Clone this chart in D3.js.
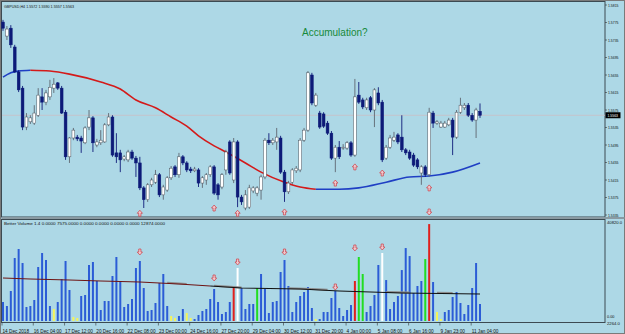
<!DOCTYPE html>
<html>
<head>
<meta charset="utf-8">
<script src="https://cdnjs.cloudflare.com/ajax/libs/d3/7.8.5/d3.min.js"></script>
<style>
body{margin:0;background:#add8e6}
svg{display:block}
text{font-family:"Liberation Sans",Arial,sans-serif}
</style>
</head>
<body>
<svg id="chart" width="625" height="334"></svg>
<script>
// GBPUSD H4 candles
const opens  = [1.5776,1.5744,1.5762,1.5719,1.5662,1.5625,1.5536,1.5548,1.5545,1.5563,1.5605,1.5593,1.5605,1.5625,1.5637,1.5625,1.5570,1.5468,1.5511,1.5513,
                1.5511,1.5500,1.5536,1.5557,1.5495,1.5500,1.5502,1.5541,1.5559,1.5477,1.5477,1.5463,1.5461,1.5479,1.5465,1.5454,1.5397,1.5370,1.5404,1.5410,
                1.5427,1.5381,1.5392,1.5420,1.5445,1.5427,1.5468,1.5454,1.5440,1.5436,1.5438,1.5408,1.5415,1.5427,1.5445,1.5404,1.5399,1.5438,1.5502,1.5415,
                1.5502,1.5376,1.5351,1.5353,1.5390,1.5385,1.5392,1.5422,1.5506,1.5500,1.5502,1.5511,1.5433,1.5388,1.5410,1.5436,1.5438,1.5506,1.5529,1.5655,
                1.5586,1.5568,1.5566,1.5545,1.5522,1.5465,1.5490,1.5488,1.5488,1.5500,1.5472,1.5609,1.5598,1.5580,1.5603,1.5575,1.5614,1.5593,1.5465,1.5490,
                1.5506,1.5518,1.5513,1.5484,1.5479,1.5472,1.5461,1.5431,1.5445,1.5427,1.5568,1.5545,1.5536,1.5536,1.5541,1.5552,1.5513,1.5570,1.5580,1.5586,
                1.5563,1.5552,1.5572];
const highs  = [1.5781,1.5767,1.5769,1.5724,1.5666,1.5630,1.5568,1.5563,1.5586,1.5625,1.5625,1.5621,1.5644,1.5648,1.5639,1.5630,1.5575,1.5513,1.5534,1.5518,
                1.5516,1.5538,1.5575,1.5561,1.5509,1.5529,1.5545,1.5568,1.5563,1.5522,1.5484,1.5472,1.5484,1.5484,1.5470,1.5468,1.5401,1.5408,1.5420,1.5438,
                1.5431,1.5404,1.5424,1.5447,1.5449,1.5477,1.5472,1.5458,1.5445,1.5445,1.5442,1.5424,1.5431,1.5449,1.5449,1.5408,1.5431,1.5484,1.5506,1.5511,
                1.5506,1.5381,1.5392,1.5404,1.5401,1.5401,1.5427,1.5511,1.5522,1.5511,1.5534,1.5516,1.5438,1.5413,1.5442,1.5447,1.5511,1.5534,1.5664,1.5660,
                1.5614,1.5573,1.5570,1.5550,1.5527,1.5495,1.5504,1.5497,1.5504,1.5504,1.5646,1.5639,1.5603,1.5603,1.5607,1.5625,1.5627,1.5598,1.5495,1.5518,
                1.5525,1.5522,1.5563,1.5488,1.5484,1.5477,1.5465,1.5449,1.5449,1.5580,1.5573,1.5552,1.5550,1.5550,1.5557,1.5557,1.5575,1.5603,1.5591,1.5591,
                1.5568,1.5580,1.5590];
const lows   = [1.5756,1.5735,1.5717,1.5660,1.5616,1.5529,1.5529,1.5543,1.5541,1.5559,1.5575,1.5586,1.5598,1.5614,1.5621,1.5566,1.5461,1.5454,1.5506,1.5504,
                1.5477,1.5497,1.5529,1.5479,1.5490,1.5495,1.5500,1.5538,1.5468,1.5454,1.5433,1.5458,1.5456,1.5461,1.5422,1.5392,1.5351,1.5365,1.5399,1.5406,
                1.5376,1.5370,1.5388,1.5415,1.5422,1.5420,1.5449,1.5433,1.5431,1.5433,1.5399,1.5397,1.5404,1.5422,1.5381,1.5370,1.5394,1.5427,1.5427,1.5408,
                1.5353,1.5358,1.5346,1.5349,1.5385,1.5378,1.5370,1.5417,1.5495,1.5495,1.5484,1.5429,1.5365,1.5383,1.5406,1.5431,1.5433,1.5502,1.5525,1.5586,
                1.5582,1.5532,1.5534,1.5518,1.5461,1.5433,1.5463,1.5484,1.5484,1.5468,1.5468,1.5589,1.5577,1.5575,1.5570,1.5536,1.5586,1.5456,1.5461,1.5486,
                1.5502,1.5497,1.5479,1.5472,1.5461,1.5445,1.5440,1.5404,1.5422,1.5422,1.5534,1.5541,1.5534,1.5534,1.5538,1.5472,1.5509,1.5566,1.5575,1.5559,
                1.5548,1.5511,1.5557];
const closes = [1.5762,1.5760,1.5724,1.5662,1.5621,1.5536,1.5559,1.5557,1.5568,1.5609,1.5593,1.5614,1.5627,1.5634,1.5625,1.5568,1.5468,1.5511,1.5529,1.5509,
                1.5504,1.5534,1.5557,1.5500,1.5502,1.5506,1.5541,1.5559,1.5472,1.5468,1.5461,1.5468,1.5479,1.5465,1.5454,1.5397,1.5370,1.5404,1.5415,1.5427,
                1.5381,1.5399,1.5420,1.5442,1.5427,1.5468,1.5454,1.5438,1.5436,1.5440,1.5408,1.5420,1.5427,1.5445,1.5385,1.5381,1.5427,1.5479,1.5431,1.5502,
                1.5376,1.5365,1.5381,1.5397,1.5397,1.5397,1.5422,1.5506,1.5500,1.5506,1.5513,1.5433,1.5388,1.5408,1.5438,1.5442,1.5506,1.5529,1.5660,1.5591,
                1.5609,1.5536,1.5538,1.5522,1.5465,1.5490,1.5468,1.5490,1.5500,1.5472,1.5605,1.5593,1.5582,1.5598,1.5575,1.5621,1.5591,1.5461,1.5490,1.5511,
                1.5513,1.5502,1.5484,1.5477,1.5465,1.5449,1.5445,1.5445,1.5427,1.5570,1.5545,1.5548,1.5545,1.5545,1.5552,1.5513,1.5570,1.5586,1.5586,1.5563,
                1.5552,1.5575,1.5563];

// Better Volume histogram
const volumes = [7830,6180,12370,25970,29690,23910,5770,6180,8660,22260,28040,25150,6180,4950,7830,17320,24740,12780,1650,1240,
                 10310,10720,23090,24330,16490,4540,8250,8250,18550,26390,16490,5770,7010,9070,21850,24740,13600,4120,4540,7420,
                 15670,19380,6180,2060,1240,2060,4950,3300,1240,820,2470,4120,4950,9070,13190,7830,2890,3710,7830,14020,
                 21850,13600,4950,7010,7010,13600,19380,13190,3300,7830,8250,20200,25150,14430,3710,7830,10310,11950,14020,5360,
                 820,820,3710,3710,9480,12370,5360,2060,4540,6590,16490,26390,19380,3710,6180,10720,23090,28040,16890,4950,
                 7830,10310,21010,30080,26780,11540,14430,16490,25540,39960,16070,3710,820,3710,4540,9890,11950,7420,2890,6590,
                 13600,23910,7010];
const yellowBars = [13,18,19,43,44,47,48,80,111,112];
const redBars    = [59,90,109];
const greenBars  = [65,91,92,108];
const whiteBars  = [60,97];

// moving average on price (bar index, price)
const maIdx = [0,2,4,7,12,17,25,30,34,39,43,47,50,54,57,62,66,72,76,80,86,91,98,104,109,115,122];
const maVal = [1.5650,1.5660,1.5664,1.5666,1.5664,1.5657,1.5639,1.5623,1.5598,1.5580,1.5559,1.5538,1.5516,1.5493,1.5479,1.5454,1.5433,1.5410,1.5399,1.5394,1.5394,1.5397,1.5410,1.5422,1.5424,1.5433,1.5454];
const maTurnDown = 7, maTurnUp = 80;

// average line on volume (bar index, volume)
const vmaIdx = [0,7,17,25,35,45,53,61,76,86,102,122];
const vmaVal = [17720,17300,16890,16490,16070,15240,14430,13600,13190,12370,11540,11130];
const vmaGray = [[42,47],[54,61],[73,79],[79,83],[98,104],[111,115]];

// signal arrows
const upArrowIdx   = [35,54,60,72,85,90,97,109];
const upArrowPrice = [1.5339,1.5351,1.5339,1.5342,1.5408,1.5445,1.5431,1.5397];
const dnArrowIdx   = [35,54,60,72,85,90,97,109];
const dnArrowVol   = [28450,17730,24330,28450,14020,30100,30510,44940];

// axis labels
const priceTicks = [1.5815,1.5775,1.5735,1.5695,1.5655,1.5615,1.5575,1.5535,1.5495,1.5455,1.5415,1.5375,1.5335];
const dateLabels = ["14 Dec 2018","16 Dec 04:00","17 Dec 12:00","20 Dec 16:00","22 Dec 08:00","23 Dec 00:00","24 Dec 16:00","27 Dec 20:00",
                    "29 Dec 04:00","30 Dec 12:00","31 Dec 20:00","4 Jan 00:00","5 Jan 08:00","6 Jan 16:00","9 Jan 23:00","11 Jan 04:00"];
const dateStep = 8;
const lastPrice = 1.5563;

const svg = d3.select("#chart");
const x  = d3.scaleLinear().domain([0, 122]).range([3, 480]);
const y  = d3.scaleLinear().domain([1.5335, 1.5815]).range([215, 5]);
const yv = d3.scaleLinear().domain([0, 40820]).range([321, 222]);

// frames
svg.append("rect").attr("x",0).attr("y",0).attr("width",625).attr("height",334).attr("fill","#add8e6");
svg.append("rect").attr("x",0.5).attr("y",0.5).attr("width",624).attr("height",333).attr("fill","none").attr("stroke","#7a7a7a");
svg.append("rect").attr("x",1.5).attr("y",1.5).attr("width",603.5).attr("height",215.5).attr("fill","none").attr("stroke","#3c4a52");
svg.append("rect").attr("x",1.5).attr("y",217).attr("width",623).attr("height",2).attr("fill","#8a9aa2");
svg.append("rect").attr("x",1.5).attr("y",219.5).attr("width",603.5).attr("height",103).attr("fill","none").attr("stroke","#3c4a52");

// current price line
svg.append("line").attr("x1",2).attr("x2",605).attr("y1",y(lastPrice)).attr("y2",y(lastPrice))
  .attr("stroke","#cdbfc4").attr("stroke-width",0.8);

// title and annotation
svg.append("text").attr("x",4).attr("y",7.6).attr("font-size",4.4).attr("fill","#111")
  .attr("textLength",70).attr("lengthAdjust","spacingAndGlyphs")
  .text("GBPUSD,H4  1.5572 1.5590 1.5557 1.5563");
svg.append("text").attr("x",302).attr("y",36).attr("font-size",10).attr("fill","#168a3a")
  .text("Accumulation?");

// price MA
const maPts = maIdx.map((d,i) => [d, maVal[i]]);
const maLine = d3.line().x(d => x(d[0])).y(d => y(d[1])).curve(d3.curveMonotoneX);
svg.append("path").datum(maPts.filter(d => d[0] <= maTurnDown))
  .attr("d", maLine).attr("fill","none").attr("stroke","#1f3fc4").attr("stroke-width",1.6);
svg.append("path").datum(maPts.filter(d => d[0] >= maTurnDown && d[0] <= maTurnUp))
  .attr("d", maLine).attr("fill","none").attr("stroke","#d41a1a").attr("stroke-width",1.6);
svg.append("path").datum(maPts.filter(d => d[0] >= maTurnUp))
  .attr("d", maLine).attr("fill","none").attr("stroke","#1f3fc4").attr("stroke-width",1.6);

// candles
const idx = d3.range(opens.length);
const candles = svg.append("g");
candles.selectAll("line.wick").data(idx).enter().append("line")
  .attr("x1", i => x(i)).attr("x2", i => x(i))
  .attr("y1", i => y(highs[i])).attr("y2", i => y(lows[i]))
  .attr("stroke", i => closes[i] >= opens[i] ? "#5f6670" : "#0d1a78").attr("stroke-width",0.9);
candles.selectAll("rect.body").data(idx).enter().append("rect")
  .attr("x", i => x(i) - 1.4).attr("width", 2.8)
  .attr("y", i => y(Math.max(opens[i], closes[i])))
  .attr("height", i => Math.max(0.8, Math.abs(y(opens[i]) - y(closes[i]))))
  .attr("fill", i => closes[i] >= opens[i] ? "#ffffff" : "#0d1a78")
  .attr("stroke", i => closes[i] >= opens[i] ? "#4a525c" : "#0d1a78").attr("stroke-width",0.5);

// arrows
function upArrow(cx, cy) {
  return `M${cx},${cy-3} L${cx+2.6},${cy} L${cx+1.1},${cy} L${cx+1.1},${cy+3} L${cx-1.1},${cy+3} L${cx-1.1},${cy} L${cx-2.6},${cy} Z`;
}
function dnArrow(cx, cy) {
  return `M${cx},${cy+3} L${cx+2.6},${cy} L${cx+1.1},${cy} L${cx+1.1},${cy-3} L${cx-1.1},${cy-3} L${cx-1.1},${cy} L${cx-2.6},${cy} Z`;
}
svg.append("g").selectAll("path").data(upArrowIdx).enter().append("path")
  .attr("d", (d,i) => upArrow(x(d), y(upArrowPrice[i])))
  .attr("fill","#f2c8cc").attr("stroke","#cc3b45").attr("stroke-width",0.7);

// volume bars
const volColor = i => yellowBars.includes(i) ? "#f4f45a" : redBars.includes(i) ? "#e0201c"
  : greenBars.includes(i) ? "#22dd22" : whiteBars.includes(i) ? "#ffffff" : "#2b5cd6";
svg.append("g").selectAll("line").data(idx).enter().append("line")
  .attr("x1", i => x(i)).attr("x2", i => x(i))
  .attr("y1", yv(0)).attr("y2", i => yv(volumes[i]))
  .attr("stroke", volColor).attr("stroke-width",2);

// volume average line
const vmaPts = vmaIdx.map((d,i) => [d, vmaVal[i]]);
const vLine = d3.line().x(d => x(d[0])).y(d => yv(d[1]));
const vAt = i => d3.scaleLinear().domain(vmaIdx).range(vmaVal)(i);
vmaGray.forEach(r => {
  svg.append("line").attr("x1", x(r[0])).attr("x2", x(r[1]))
    .attr("y1", yv(vAt(r[0])) - 0.6).attr("y2", yv(vAt(r[1])) - 0.6)
    .attr("stroke","#8c8c8c").attr("stroke-width",2);
});
svg.append("path").datum(vmaPts.filter(d => d[0] <= 53)).attr("d", vLine)
  .attr("fill","none").attr("stroke","#6e1414").attr("stroke-width",1.1);
svg.append("path").datum(vmaPts.filter(d => d[0] >= 53)).attr("d", vLine)
  .attr("fill","none").attr("stroke","#111").attr("stroke-width",1.1);

svg.append("g").selectAll("path").data(dnArrowIdx).enter().append("path")
  .attr("d", (d,i) => dnArrow(x(d), yv(dnArrowVol[i])))
  .attr("fill","#f2c8cc").attr("stroke","#cc3b45").attr("stroke-width",0.7);

svg.append("text").attr("x",4).attr("y",225).attr("font-size",4.4).attr("fill","#111")
  .attr("textLength",161).attr("lengthAdjust","spacingAndGlyphs")
  .text("Better Volume 1.4 0.0000 7575.0000 0.0000 0.0000 0.0000 0.0000 12874.0000");

// right price axis
const ax = svg.append("g");
priceTicks.forEach(t => {
  ax.append("line").attr("x1",605).attr("x2",607).attr("y1",y(t)).attr("y2",y(t)).attr("stroke","#333").attr("stroke-width",0.6);
  ax.append("text").attr("x",608).attr("y",y(t) + 1.5).attr("font-size",4.2).attr("fill","#111")
    .attr("textLength",10.5).attr("lengthAdjust","spacingAndGlyphs").text(t.toFixed(4));
});
ax.append("rect").attr("x",605.5).attr("y",y(lastPrice) - 3).attr("width",15).attr("height",6).attr("fill","#000");
ax.append("text").attr("x",607.5).attr("y",y(lastPrice) + 1.6).attr("font-size",4.2).attr("fill","#fff")
  .attr("textLength",10.5).attr("lengthAdjust","spacingAndGlyphs").text(lastPrice.toFixed(4));

// volume axis
ax.append("text").attr("x",607).attr("y",yv(40820) + 1.5).attr("font-size",4.2).attr("fill","#111").text("40820.0");
ax.append("text").attr("x",607).attr("y",318.2).attr("font-size",3.8).attr("fill","#111").text("0.00");
ax.append("text").attr("x",607).attr("y",324.6).attr("font-size",4.2).attr("fill","#111").text("2264.0");

// date axis
dateLabels.forEach((s, k) => {
  const xi = x(k * dateStep);
  ax.append("line").attr("x1",xi - 1).attr("x2",xi - 1).attr("y1",322.5).attr("y2",325.5).attr("stroke","#333").attr("stroke-width",0.6);
  ax.append("text").attr("x",xi - 0.5).attr("y",332.5).attr("font-size",4.7).attr("fill","#111").text(s);
});
</script>
</body>
</html>
